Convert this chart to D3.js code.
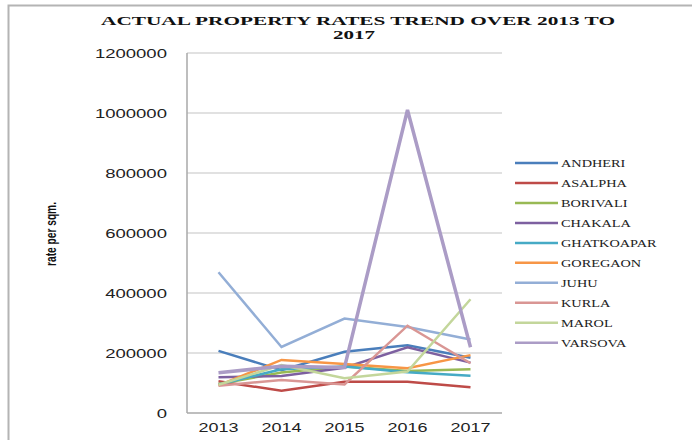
<!DOCTYPE html>
<html>
<head>
<meta charset="utf-8">
<script src="https://cdn.jsdelivr.net/npm/d3@7"></script>
<style>
  body { margin: 0; background: #fff; }
  svg { display: block; }
</style>
</head>
<body>
<svg id="chart" width="692" height="440"></svg>
<script>
const years = ["2013", "2014", "2015", "2016", "2017"];
const areas = ["ANDHERI", "ASALPHA", "BORIVALI", "CHAKALA", "GHATKOAPAR", "GOREGAON", "JUHU", "KURLA", "MAROL", "VARSOVA"];
const andheri    = [207000, 143000, 204000, 226000, 184000];
const asalpha    = [106000,  74000, 104000, 104000,  86000];
const borivali   = [ 97000, 135000, 155000, 140000, 146000];
const chakala    = [119000, 123000, 151000, 219000, 168000];
const ghatkoapar = [ 95000, 146000, 155000, 136000, 124000];
const goregaon   = [ 92000, 177000, 163000, 149000, 193000];
const juhu       = [469000, 220000, 315000, 287000, 245000];
const kurla      = [ 91000, 110000,  95000, 291000, 166000];
const marol      = [ 94000, 160000, 116000, 138000, 379000];
const varsova    = [134000, 156000, 152000, 1010000, 219000];
const yTicks = [0, 200000, 400000, 600000, 800000, 1000000, 1200000];

const seriesValues = [andheri, asalpha, borivali, chakala, ghatkoapar, goregaon, juhu, kurla, marol, varsova];
const colors = ["#4a7ebb", "#be4b48", "#98b954", "#7d60a0", "#46aac5", "#f79646", "#93aed6", "#d99694", "#c3d69b", "#ab9cc6"];

const svg = d3.select("#chart");

// outer frame
svg.append("rect")
    .attr("x", 8.5).attr("y", 5.5)
    .attr("width", 700).attr("height", 460)
    .attr("fill", "none")
    .attr("stroke", "#b4b4b4")
    .attr("stroke-width", 2);

const plot = { left: 187, right: 502, top: 53, bottom: 413 };

const x = d3.scalePoint()
    .domain(years)
    .range([plot.left, plot.right])
    .padding(0.5);

const y = d3.scaleLinear()
    .domain([0, 1200000])
    .range([plot.bottom, plot.top]);

// gridlines
svg.append("g")
    .selectAll("line")
    .data(yTicks.slice(1))
    .enter().append("line")
    .attr("x1", plot.left).attr("x2", plot.right)
    .attr("y1", d => y(d)).attr("y2", d => y(d))
    .attr("stroke", "#c4c4c4")
    .attr("stroke-width", 1.2);

// axes lines
svg.append("line")
    .attr("x1", plot.left).attr("x2", plot.left)
    .attr("y1", plot.top).attr("y2", plot.bottom)
    .attr("stroke", "#a8a8a8").attr("stroke-width", 1.5);
svg.append("line")
    .attr("x1", plot.left).attr("x2", plot.right)
    .attr("y1", plot.bottom).attr("y2", plot.bottom)
    .attr("stroke", "#a8a8a8").attr("stroke-width", 1.5);

// y tick labels (stretched look)
svg.append("g")
    .selectAll("text")
    .data(yTicks)
    .enter().append("text")
    .attr("x", d => 167 - String(d).length * 10.3)
    .attr("y", d => y(d) + 5)
    .attr("textLength", d => String(d).length * 10.3)
    .attr("lengthAdjust", "spacingAndGlyphs")
    .attr("font-family", "Liberation Sans, Arial, sans-serif")
    .attr("font-size", 13)
    .attr("fill", "#222")
    .text(d => d);

// x tick labels
svg.append("g")
    .selectAll("text")
    .data(years)
    .enter().append("text")
    .attr("x", d => x(d) - 20)
    .attr("y", 432)
    .attr("textLength", 40)
    .attr("lengthAdjust", "spacingAndGlyphs")
    .attr("font-family", "Liberation Sans, Arial, sans-serif")
    .attr("font-size", 13)
    .attr("fill", "#222")
    .text(d => d);

// y axis title
svg.append("text")
    .attr("transform", "translate(56,266) rotate(-90)")
    .attr("textLength", 64)
    .attr("lengthAdjust", "spacingAndGlyphs")
    .attr("font-family", "Liberation Sans Narrow, Liberation Sans, Arial, sans-serif")
    .attr("font-weight", "bold")
    .attr("font-size", 15)
    .attr("fill", "#111")
    .text("rate per sqm.");

// title
svg.append("text")
    .attr("x", 101).attr("y", 25)
    .attr("textLength", 514)
    .attr("lengthAdjust", "spacingAndGlyphs")
    .attr("font-family", "Liberation Serif, Times New Roman, serif")
    .attr("font-weight", "bold")
    .attr("font-size", 13.5)
    .attr("fill", "#111")
    .text("ACTUAL  PROPERTY RATES  TREND OVER 2013 TO");
svg.append("text")
    .attr("x", 333).attr("y", 39)
    .attr("textLength", 42)
    .attr("lengthAdjust", "spacingAndGlyphs")
    .attr("font-family", "Liberation Serif, Times New Roman, serif")
    .attr("font-weight", "bold")
    .attr("font-size", 13.5)
    .attr("fill", "#111")
    .text("2017");

// series lines
const line = d3.line()
    .x((d, i) => x(years[i]))
    .y(d => y(d));

svg.append("g")
    .selectAll("path")
    .data(seriesValues)
    .enter().append("path")
    .attr("d", d => line(d))
    .attr("fill", "none")
    .attr("stroke", (d, i) => colors[i])
    .attr("stroke-width", (d, i) => i === 9 ? 3.5 : 2.5)
    .attr("stroke-linejoin", "miter");

// legend
const legend = svg.append("g")
    .attr("transform", "translate(515,163)");

const item = legend.selectAll("g")
    .data(areas)
    .enter().append("g")
    .attr("transform", (d, i) => `translate(0, ${i * 19.97})`);

item.append("line")
    .attr("x1", 0).attr("x2", 43)
    .attr("stroke", (d, i) => colors[i])
    .attr("stroke-width", 2.5);

item.append("text")
    .attr("transform", "translate(46,4) scale(1.3,1)")
    .attr("font-family", "Liberation Serif, Times New Roman, serif")
    .attr("font-size", 11)
    .attr("fill", "#222")
    .text(d => d);
</script>
</body>
</html>
